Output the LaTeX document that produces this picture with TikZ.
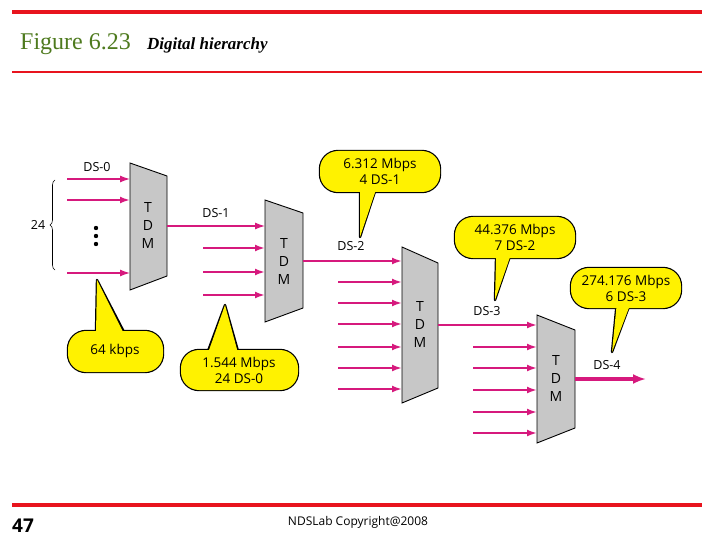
\documentclass[tikz,border=0pt]{standalone}
\usepackage{fontspec}
\setmainfont{Liberation Serif}
\setsansfont{Open Sans}
\usetikzlibrary{positioning,arrows.meta,decorations.pathreplacing}
\definecolor{sigpink}{HTML}{D6197D}
\definecolor{callyel}{HTML}{FFF200}
\definecolor{figgreen}{HTML}{4E7A1E}
\definecolor{rulered}{HTML}{E8141E}

% callout: box (x1,y1), box x2, tip, pointer base x-left, x-right, box y2
\newcommand{\mycallout}[7]{
  \draw[line width=2.4pt, line join=round] (#5,#2+1) -- (#4) -- (#6,#2+1);
  \draw[line width=2.4pt, rounded corners=18pt] (#1,#2) rectangle (#3,#7);
}
\newcommand{\myfill}[7]{
  \fill[callyel] (#5,#2+3) -- (#4) -- (#6,#2+3) -- cycle;
  \fill[callyel, rounded corners=18pt] (#1,#2) rectangle (#3,#7);
}

\begin{document}
\begin{tikzpicture}[x=1pt,y=-1pt,
    sig/.style={draw=sigpink, line width=2pt, -{Latex[length=10pt,width=7pt]}},
    sigthin/.style={draw=sigpink, line width=1.3pt, -{Latex[length=10pt,width=7pt]}},
    mux/.style={draw=black, fill=black!22, line width=0.9pt},
    lbl/.style={font=\sffamily\fontsize{12.5}{14}\selectfont, inner sep=1pt},
    cal/.style={font=\sffamily\fontsize{13.5}{16}\selectfont, inner sep=1pt, align=center},
    tdm/.style={font=\sffamily\fontsize{14}{18}\selectfont, align=center}
    ]
    \useasboundingbox (0,0) rectangle (720,540);
    %Header and footer
    \draw[rulered, line width=4pt] (12,12) -- (702,12);
    \draw[rulered, line width=2pt] (12,72) -- (702,72);
    \draw[rulered, line width=4pt] (12,505) -- (702,505);
    \node[anchor=base west, font=\fontsize{24}{26}\selectfont, text=figgreen, inner sep=0pt]
        (fig) at (20,50) {Figure 6.23};
    \node[anchor=base west, font=\bfseries\itshape\fontsize{17}{19}\selectfont, inner sep=0pt]
        (title) at (147,50) {Digital hierarchy};
    \node[font=\sffamily\bfseries\fontsize{19}{20}\selectfont] (page) at (23,526) {47};
    \node[font=\sffamily\fontsize{12}{14}\selectfont] (copy) at (358,522) {NDSLab Copyright@2008};

    %Callouts
    \mycallout{68}{331}{163}{97,280}{96}{124}{372}
    \mycallout{181}{350}{298}{225,305}{208}{238}{390}
    \mycallout{320}{151}{440}{360,237}{360}{388}{192}
    \mycallout{455}{217}{575}{495,300}{497}{523}{258}
    \mycallout{571}{268}{681}{612,352}{620}{643}{308}
    \myfill{68}{331}{163}{97,280}{96}{124}{372}
    \myfill{181}{350}{298}{225,305}{208}{238}{390}
    \myfill{320}{151}{440}{360,237}{360}{388}{192}
    \myfill{455}{217}{575}{495,300}{497}{523}{258}
    \myfill{571}{268}{681}{612,352}{620}{643}{308}
    \node[cal] (c64) at (115,351) {64 kbps};
    \node[cal] (c1544) at (239,370) {1.544 Mbps\\24 DS-0};
    \node[cal] (c6312) at (380,171) {6.312 Mbps\\4 DS-1};
    \node[cal] (c44376) at (515,237) {44.376 Mbps\\7 DS-2};
    \node[cal] (c274176) at (626,288) {274.176 Mbps\\6 DS-3};

    %Multiplexers
    \draw[mux] (130,163) -- (167,176) -- (167,276) -- (130,290) -- cycle;
    \draw[mux] (265,200) -- (303,213) -- (303,308) -- (265,322) -- cycle;
    \draw[mux] (402,247) -- (438,263) -- (438,388) -- (402,403) -- cycle;
    \draw[mux] (537,315) -- (575,330) -- (575,428) -- (537,443) -- cycle;
    \node[tdm] (tdm1) at (148,226) {T\\D\\M};
    \node[tdm] (tdm2) at (284,262) {T\\D\\M};
    \node[tdm] (tdm3) at (420,325) {T\\D\\M};
    \node[tdm] (tdm4) at (556,379) {T\\D\\M};

    %First level inputs
    \foreach \y/\w in {179/1.3pt, 200/2pt, 273/1.3pt}
        \draw[sig, line width=\w] (67,\y) -- (130,\y);
    \node[lbl] (ds0) at (97,167) {DS-0};
    \foreach \y in {228,236,244}
        \fill (96,\y) circle (2.2pt);
    \draw[decorate, decoration={brace, amplitude=5pt}, line width=0.6pt]
        (55,270) -- (55,180);
    \node[lbl] (n24) at (38,225) {24};

    %Second level
    \draw[sigthin] (167,226) -- (265,226);
    \node[lbl] (ds1) at (216,213) {DS-1};
    \foreach \y in {248,272,295}
        \draw[sig] (203,\y) -- (265,\y);

    %Third level
    \draw[sig] (303,261) -- (402,261);
    \node[lbl] (ds2) at (351,246) {DS-2};
    \foreach \y in {282,303,324,347,368,389}
        \draw[sig] (338,\y) -- (402,\y);

    %Fourth level
    \draw[sig, line width=2.4pt] (438,325) -- (537,325);
    \node[lbl] (ds3) at (487,311) {DS-3};
    \foreach \y in {347,368,390,412,433}
        \draw[sig, line width=2.4pt] (473,\y) -- (537,\y);

    %Output
    \draw[draw=sigpink, line width=3.5pt, -{Latex[length=13pt,width=10pt]}] (575,379) -- (646,379);
    \node[lbl] (ds4) at (607,365) {DS-4};
\end{tikzpicture}
\end{document}
